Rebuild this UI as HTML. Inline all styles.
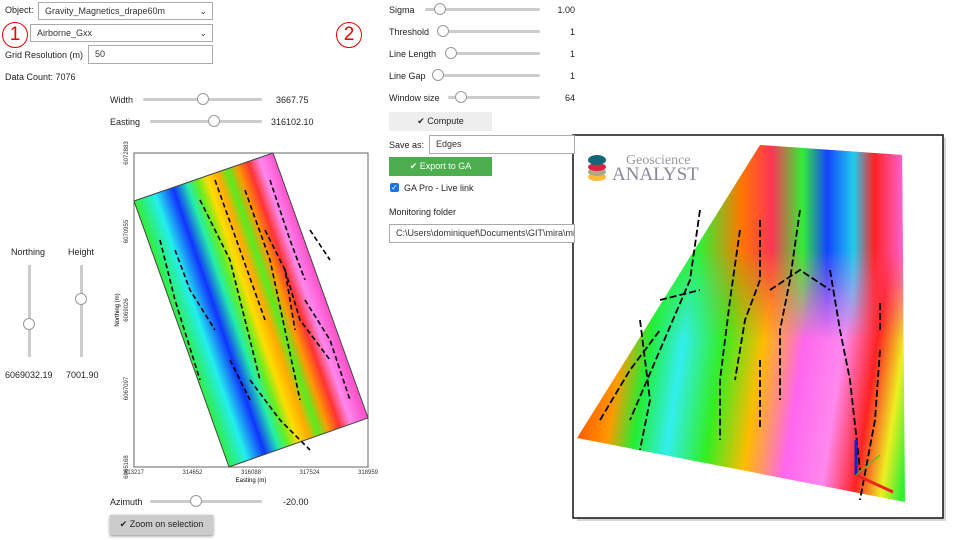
<!DOCTYPE html>
<html><head><meta charset="utf-8"><style>
body{margin:0;width:960px;height:540px;background:#fff;font-family:"Liberation Sans",sans-serif;font-size:9px;color:#222;position:relative;overflow:hidden}
.a{position:absolute}
.trk{position:absolute;height:3px;background:#ccc;border-radius:2px}
.knob{position:absolute;width:10px;height:10px;border:1px solid #999;border-radius:50%;background:#fff}
.sel{position:absolute;border:1px solid #aaa;background:#fff;height:18px;box-sizing:border-box;padding:3px 6px;color:#333}
.btn{position:absolute;height:19px;box-sizing:border-box;text-align:center;padding-top:4px}
</style></head><body>
<div class="a" style="left:5px;top:5px">Object:</div>
<div class="sel" style="left:38px;top:2px;width:175px">Gravity_Magnetics_drape60m<span style="position:absolute;right:5px">&#8964;</span></div>
<div class="sel" style="left:30px;top:24px;width:183px">Airborne_Gxx<span style="position:absolute;right:5px">&#8964;</span></div>
<div class="a" style="left:2px;top:22px;width:24px;height:24px;border:1.5px solid #e00;border-radius:50%;color:#e00;font-size:19px;text-align:center;line-height:24px">1</div>
<div class="a" style="left:5px;top:50px">Grid Resolution (m)</div>
<div class="sel" style="left:88px;top:45px;width:125px;height:19px">50</div>
<div class="a" style="left:5px;top:72px">Data Count: 7076</div>

<div class="a" style="left:110px;top:95px">Width</div>
<div class="trk" style="left:143px;top:98px;width:119px"></div>
<div class="knob" style="left:197px;top:93px"></div>
<div class="a" style="left:276px;top:95px">3667.75</div>
<div class="a" style="left:110px;top:117px">Easting</div>
<div class="trk" style="left:150px;top:120px;width:112px"></div>
<div class="knob" style="left:208px;top:115px"></div>
<div class="a" style="left:271px;top:117px">316102.10</div>

<div class="a" style="left:11px;top:247px">Northing</div>
<div class="a" style="left:28px;top:265px;width:3px;height:92px;background:#ccc"></div>
<div class="knob" style="left:23px;top:318px"></div>
<div class="a" style="left:5px;top:370px">6069032.19</div>
<div class="a" style="left:68px;top:247px">Height</div>
<div class="a" style="left:80px;top:265px;width:3px;height:92px;background:#ccc"></div>
<div class="knob" style="left:75px;top:293px"></div>
<div class="a" style="left:66px;top:370px">7001.90</div>

<div class="a" style="left:110px;top:497px">Azimuth</div>
<div class="trk" style="left:150px;top:500px;width:112px"></div>
<div class="knob" style="left:190px;top:495px"></div>
<div class="a" style="left:283px;top:497px">-20.00</div>
<div class="btn" style="left:110px;top:515px;width:103px;height:20px;background:#ccc;box-shadow:0 1px 3px #888">&#10004; Zoom on selection</div>

<svg class="a" style="left:0;top:0" width="960" height="540">
<defs>
<linearGradient id="g1" gradientUnits="userSpaceOnUse" x1="134" y1="201" x2="273" y2="153">
<stop offset="0" stop-color="#3e3"/><stop offset=".15" stop-color="#2ee"/><stop offset=".28" stop-color="#13f"/><stop offset=".38" stop-color="#2ea"/><stop offset=".45" stop-color="#6e2"/><stop offset=".52" stop-color="#fd0"/><stop offset=".6" stop-color="#fa0"/><stop offset=".67" stop-color="#5e2"/><stop offset=".74" stop-color="#f90"/><stop offset=".82" stop-color="#f33"/><stop offset=".9" stop-color="#f8e"/><stop offset="1" stop-color="#f5c"/></linearGradient>
<linearGradient id="g2" gradientUnits="userSpaceOnUse" x1="577" y1="420" x2="905" y2="470">
<stop offset="0" stop-color="#f50"/><stop offset=".1" stop-color="#f90"/><stop offset=".18" stop-color="#2e3"/><stop offset=".28" stop-color="#3ee"/><stop offset=".4" stop-color="#3e2"/><stop offset=".52" stop-color="#fb0"/><stop offset=".64" stop-color="#f6e"/><stop offset=".76" stop-color="#f8e"/><stop offset=".86" stop-color="#f22"/><stop offset=".94" stop-color="#ee2"/><stop offset="1" stop-color="#3e3"/></linearGradient>
<linearGradient id="g3" gradientUnits="userSpaceOnUse" x1="700" y1="200" x2="905" y2="200">
<stop offset="0" stop-color="#3e3"/><stop offset=".2" stop-color="#f70"/><stop offset=".35" stop-color="#f35"/><stop offset=".5" stop-color="#3e3"/><stop offset=".62" stop-color="#14f"/><stop offset=".75" stop-color="#2ce"/><stop offset=".85" stop-color="#f22"/><stop offset="1" stop-color="#f6d"/></linearGradient>
<linearGradient id="fade" x1="0" y1="0" x2="0" y2="1"><stop offset="0" stop-color="#fff"/><stop offset=".55" stop-color="#fff"/><stop offset="1" stop-color="#000"/></linearGradient>
<mask id="m3"><rect x="570" y="140" width="380" height="200" fill="url(#fade)"/></mask>
<clipPath id="c3"><polygon points="760,145 902,155 905,502 577,438"/></clipPath>
</defs>
<rect x="134" y="153" width="234" height="314" fill="none" stroke="#666"/>
<polygon points="134,201 273,153 368,418 229,467" fill="url(#g1)" stroke="#444" stroke-width="1"/>
<g id="edges1" stroke="#000" stroke-width="1.6" fill="none" stroke-dasharray="5 3"></g>
<g id="ticks" font-size="6" fill="#333" font-family="Liberation Sans"></g>
<text x="251" y="482" font-size="6" text-anchor="middle">Easting (m)</text>
<text x="119" y="310" font-size="6" text-anchor="middle" transform="rotate(-90 119 310)">Northing (m)</text>

<rect x="577" y="138" width="369" height="383" fill="#bbb" opacity=".6"/>
<rect x="573" y="135" width="370" height="383" fill="#fff" stroke="#111" stroke-width="1.5"/>
<polygon points="760,145 902,155 905,502 577,438" fill="url(#g2)"/>
<g clip-path="url(#c3)"><rect x="570" y="140" width="380" height="200" fill="url(#g3)" mask="url(#m3)"/></g>
<g id="edges2" stroke="#000" stroke-width="1.8" fill="none" stroke-dasharray="7 3"></g>
<g>
<ellipse cx="597" cy="177" rx="9" ry="4" fill="#fb3"/><ellipse cx="597" cy="172" rx="9" ry="4" fill="#aa8"/><ellipse cx="597" cy="167" rx="9" ry="4" fill="#d24"/><ellipse cx="597" cy="160" rx="9" ry="5" fill="#167"/>
<text x="626" y="164" font-family="Liberation Serif" font-size="14" fill="#999">Geoscience</text>
<text x="612" y="180" font-family="Liberation Serif" font-size="19" fill="#889">ANALYST</text></g>
<g><line x1="856" y1="475" x2="856" y2="440" stroke="#12c" stroke-width="3"/><line x1="856" y1="475" x2="893" y2="492" stroke="#e22" stroke-width="3"/><line x1="856" y1="475" x2="880" y2="455" stroke="#2c2" stroke-width="1"/></g>
</svg>

<div class="a" style="left:336px;top:22px;width:24px;height:24px;border:1.5px solid #e00;border-radius:50%;color:#e00;font-size:19px;text-align:center;line-height:24px">2</div>
<div id="sliders"></div>
<div class="btn" style="left:389px;top:112px;width:103px;background:#eee">&#10004; Compute</div>
<div class="a" style="left:389px;top:140px">Save as:</div>
<div class="sel" style="left:429px;top:135px;width:146px;height:19px">Edges</div>
<div class="btn" style="left:389px;top:157px;width:103px;background:#4cae4c;color:#fff">&#10004; Export to GA</div>
<div class="a" style="left:390px;top:183px;width:9px;height:9px;background:#1a73e8;border-radius:2px;color:#fff;font-size:8px;line-height:9px;text-align:center">&#10003;</div>
<div class="a" style="left:404px;top:183px">GA Pro - Live link</div>
<div class="a" style="left:389px;top:207px">Monitoring folder</div>
<div class="sel" style="left:389px;top:224px;width:186px;height:19px;overflow:hidden;white-space:nowrap">C:\Users\dominiquef\Documents\GIT\mira\mira</div>

<script>
const sliderNames=["Sigma","Threshold","Line Length","Line Gap","Window size"];
const sliderValues=["1.00","1","1","1","64"];
const sliderFrac=[0.08,0,0,0,0.08];
const xTicks=["313217","314652","316088","317524","318959"];
const yTicks=["6072883","6070955","6069026","6067097","6065168"];
const trackStart=[425,437,445,432,448];
const sc=document.getElementById('sliders');
sliderNames.forEach((n,i)=>{const y=5+i*22;const ts=trackStart[i];const w=540-ts;
 sc.insertAdjacentHTML('beforeend',`<div class="a" style="left:389px;top:${y}px">${n}</div><div class="trk" style="left:${ts}px;top:${y+3}px;width:${w}px"></div><div class="knob" style="left:${ts+sliderFrac[i]*w}px;top:${y-2}px"></div><div class="a" style="left:540px;top:${y}px;width:35px;text-align:right">${sliderValues[i]}</div>`);});
const NS='http://www.w3.org/2000/svg';
const tg=document.getElementById('ticks');
xTicks.forEach((t,i)=>{const e=document.createElementNS(NS,'text');


e.setAttribute('x',134+i*234/(xTicks.length-1));e.setAttribute('y',474);e.setAttribute('text-anchor','middle');e.textContent=t;tg.appendChild(e);});
yTicks.forEach((t,i)=>{const y=153+i*314/(yTicks.length-1);const e=document.createElementNS(NS,'text');


e.setAttribute('x',128);e.setAttribute('y',y);e.setAttribute('text-anchor','middle');e.setAttribute('transform',`rotate(-90 128 ${y})`);e.textContent=t;tg.appendChild(e);});
function lines(id,segs){const g=document.getElementById(id);segs.forEach(s=>{const p=document.createElementNS(NS,'path');


p.setAttribute('d',s);g.appendChild(p);});}
lines('edges1',["M160,240 L175,300 L200,380","M200,200 L230,260 L245,320 L260,380","M215,180 L240,250 L265,320","M245,190 L270,260 L285,330 L300,400","M265,230 L285,270 L295,330","M285,270 L300,320 L330,360","M270,180 L290,240 L305,280","M310,230 L330,260","M305,300 L330,340 L350,400","M250,380 L280,420 L310,450","M175,250 L190,290 L215,330","M230,360 L250,400"]);
lines('edges2',["M700,210 L690,280 L660,350 L630,420","M740,230 L730,300 L720,380 L720,440","M760,220 L760,280 L745,320 L735,380","M800,210 L790,280 L780,330 L780,400","M830,270 L840,330 L850,380 L860,470","M770,290 L800,270 L830,290","M660,300 L700,290","M640,320 L650,400 L640,450","M880,330 L880,300","M600,420 L630,370 L660,330","M880,350 L875,420 L860,500","M760,360 L760,430"]);
</script>
</body></html>
